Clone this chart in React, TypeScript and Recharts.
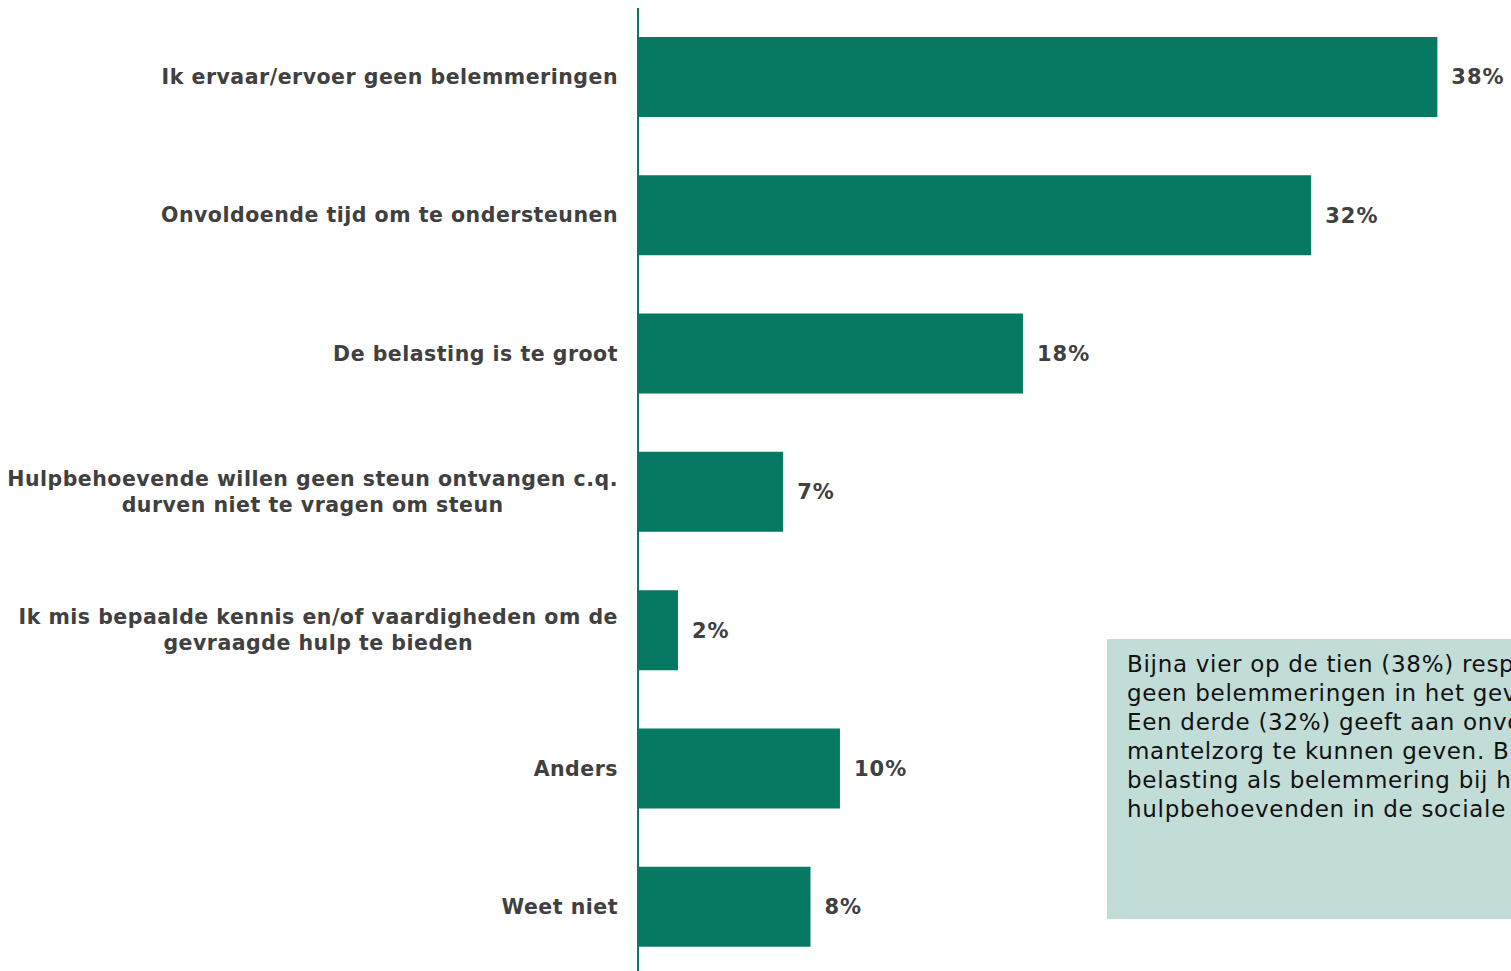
import { BarChart, Bar, XAxis, YAxis, LabelList } from 'recharts'

const categories = [
  'Ik ervaar/ervoer geen belemmeringen',
  'Onvoldoende tijd om te ondersteunen',
  'De belasting is te groot',
  'Hulpbehoevende willen geen steun ontvangen c.q.\ndurven niet te vragen om steun',
  'Ik mis bepaalde kennis en/of vaardigheden om de\ngevraagde hulp te bieden',
  'Anders',
  'Weet niet',
]
const values = [38.0, 32.0, 18.3, 6.9, 1.9, 9.6, 8.2]
const valueLabels = ['38%', '32%', '18%', '7%', '2%', '10%', '8%']

const noteLines = [
  'Bijna vier op de tien (38%) respondenten ervaart of ervoer',
  'geen belemmeringen in het geven van mantelzorg.',
  'Een derde (32%) geeft aan onvoldoende tijd te hebben om',
  'mantelzorg te kunnen geven. Bijna een vijfde (18%) noemt de',
  'belasting als belemmering bij het ondersteunen van',
  'hulpbehoevenden in de sociale omgeving.',
]

const data = categories.map((name, i) => ({ name, value: values[i], label: valueLabels[i] }))

const teal = '#077962'
const grey = '#404040'
const labelFont = '"DejaVu Sans", Verdana, sans-serif'
const labelSize = 20.5
const labelSpacing = 0.5

let ctx: CanvasRenderingContext2D | null = null
function textWidth(s: string) {
  if (!ctx) ctx = document.createElement('canvas').getContext('2d')
  if (!ctx) return s.length * 12
  ctx.font = `bold ${labelSize}px ${labelFont}`
  return ctx.measureText(s).width + s.length * labelSpacing
}

const labelStyle = { fontFamily: labelFont, fontSize: labelSize, fontWeight: 700, letterSpacing: labelSpacing }

// right-aligned block, extra lines centred under the first (like the source)
function CategoryTick(props: any) {
  const { x, y, payload } = props
  const lines = String(payload.value).split('\n')
  const right = x - 12
  if (lines.length === 1) {
    return (
      <text x={right} y={y} dy={7} textAnchor="end" fill={grey} style={labelStyle}>
        {lines[0]}
      </text>
    )
  }
  const w = Math.max(...lines.map(textWidth))
  const cx = right - w / 2
  return (
    <text x={cx} y={y} textAnchor="middle" fill={grey} style={labelStyle}>
      {lines.map((l, i) => (
        <tspan key={i} x={cx} dy={i === 0 ? -6 : 26}>{l}</tspan>
      ))}
    </text>
  )
}

export default function App() {
  return (
    <div style={{ position: 'fixed', left: 0, top: 0, width: 1511, height: 971, overflow: 'hidden', background: '#fff' }}>
      <BarChart
        layout="vertical"
        width={1511}
        height={976}
        data={data}
        margin={{ top: 8, right: 0, bottom: 0, left: 0 }}
      >
        <XAxis type="number" domain={[0, 41.5]} hide />
        <YAxis
          type="category"
          dataKey="name"
          width={638}
          tickLine={false}
          axisLine={{ stroke: teal, strokeWidth: 2 }}
          tick={<CategoryTick />}
          interval={0}
        />
        <Bar dataKey="value" fill={teal} barSize={80} isAnimationActive={false}>
          <LabelList
            dataKey="label"
            position="right"
            offset={14}
            fill={grey}
            style={{ fontFamily: labelFont, fontSize: 21, fontWeight: 700, letterSpacing: 1 }}
          />
        </Bar>
      </BarChart>
      <div
        style={{
          position: 'absolute', left: 1107, top: 639, width: 420, height: 280,
          background: '#c2ddd8', padding: '11px 20px', boxSizing: 'border-box',
          fontFamily: labelFont, fontSize: 23, lineHeight: '29px', letterSpacing: 0.7, color: '#111',
        }}
      >
        {noteLines.map((l, i) => (
          <div key={i} style={{ whiteSpace: 'nowrap' }}>{l}</div>
        ))}
      </div>
    </div>
  )
}
